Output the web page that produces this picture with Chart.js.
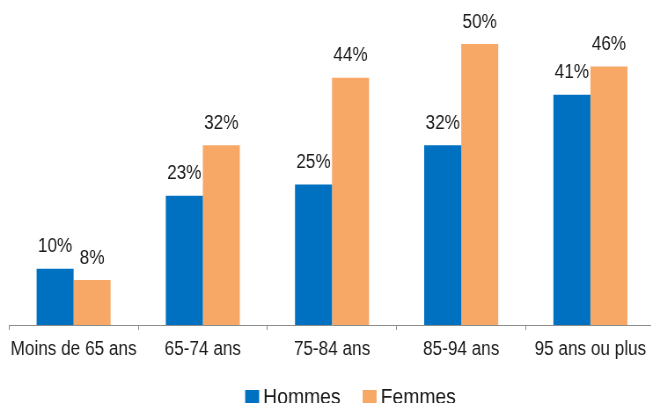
<!DOCTYPE html>
<html lang="fr">
<head>
<meta charset="utf-8">
<script src="https://cdn.jsdelivr.net/npm/chart.js@4/dist/chart.umd.min.js"></script>
<style>
  html, body { margin: 0; padding: 0; background: #fff; }
  #wrap { width: 651px; height: 403px; overflow: hidden; position: relative; }
  /* the typeface is set slightly condensed: the canvas is drawn wide and narrowed */
  canvas { display: block; transform: scaleX(0.88); transform-origin: 0 0; }
</style>
</head>
<body>
<div id="wrap"><canvas id="c" width="750" height="410"></canvas></div>
<script>
// Age groups and share (%) per sex
const categories = ['Moins de 65 ans', '65-74 ans', '75-84 ans', '85-94 ans', '95 ans ou plus'];
const hommes = [10, 23, 25, 32, 41];
const femmes = [8, 32, 44, 50, 46];
const seriesNames = ['Hommes', 'Femmes'];

const SX = 0.88;            // horizontal narrowing applied by CSS
const BLUE = '#0070C0';
const ORANGE = '#F7A867';
const TEXT = '#1a1a1a';
const FONT = '"Liberation Sans", Arial, sans-serif';
const FS = 19.5;
const LEGEND_FS = 22;

// Percent labels above each bar
const valueLabels = {
  id: 'valueLabels',
  afterDatasetsDraw(chart) {
    const ctx = chart.ctx;
    ctx.save();
    ctx.font = FS + 'px ' + FONT;
    ctx.fillStyle = TEXT;
    ctx.textAlign = 'center';
    ctx.textBaseline = 'alphabetic';
    chart.data.datasets.forEach((ds, i) => {
      chart.getDatasetMeta(i).data.forEach((bar, j) => {
        ctx.fillText(ds.data[j] + '%', bar.x, bar.y - 16.5);
      });
    });
    ctx.restore();
  }
};

// Compact legend under the axis
const bottomLegend = {
  id: 'bottomLegend',
  afterDraw(chart) {
    const ctx = chart.ctx;
    ctx.save();
    ctx.font = LEGEND_FS + 'px ' + FONT;
    ctx.textBaseline = 'alphabetic';
    ctx.textAlign = 'left';
    const box = 14 / SX, gap = 4 / SX, between = 22 / SX;
    const items = chart.data.datasets.map(ds => ({
      label: ds.label, color: ds.backgroundColor, w: box + gap + ctx.measureText(ds.label).width
    }));
    const total = items.reduce((s, it) => s + it.w, 0) + between * (items.length - 1);
    let x = 350.5 / SX - total / 2;
    const baseline = 404;
    items.forEach(it => {
      ctx.fillStyle = it.color;
      ctx.fillRect(x, 390, box, 14);
      ctx.fillStyle = TEXT;
      ctx.fillText(it.label, x + box + gap, baseline);
      x += it.w + between;
    });
    ctx.restore();
  }
};

new Chart(document.getElementById('c'), {
  type: 'bar',
  data: {
    labels: categories,
    datasets: [
      { label: seriesNames[0], data: hommes, backgroundColor: BLUE },
      { label: seriesNames[1], data: femmes, backgroundColor: ORANGE }
    ]
  },
  options: {
    responsive: false,
    animation: false,
    devicePixelRatio: 1,
    categoryPercentage: 0.573,
    barPercentage: 1,
    layout: { padding: { left: 9 / SX, right: 750 - 655 / SX, top: 16, bottom: 45 } },
    plugins: {
      legend: { display: false },
      tooltip: { enabled: false }
    },
    scales: {
      y: { display: false, min: 0, max: 55 },
      x: {
        afterFit(scale) { scale.height = 40; },
        grid: {
          display: true,
          drawOnChartArea: false,
          drawTicks: true,
          tickLength: 5,
          tickColor: '#8c8c8c',
          offset: true
        },
        border: { display: true, color: '#8c8c8c', width: 1 },
        ticks: {
          color: TEXT,
          font: { family: FONT, size: FS },
          padding: 8,
          maxRotation: 0,
          autoSkip: false
        }
      }
    }
  },
  plugins: [valueLabels, bottomLegend]
});
</script>
</body>
</html>
